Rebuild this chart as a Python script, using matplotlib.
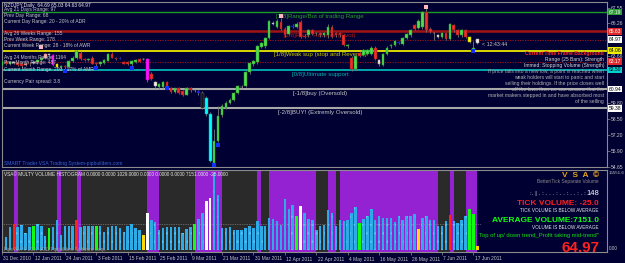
import matplotlib
matplotlib.use("Agg")
import matplotlib.pyplot as plt
import matplotlib.transforms as mtransforms
from matplotlib.patches import Rectangle

plt.rcParams['font.family'] = ['Liberation Sans', 'DejaVu Sans']
plt.rcParams['hatch.linewidth'] = 0.3

# ---- daily bars NZDJPY, 31 Dec 2010 .. 20 Jun 2011 (bar index 0..121) ----
opens = [62.85, 63.20, 63.00, 63.15, 63.05, 63.00, 62.90, 63.00, 63.05, 63.10,
         63.30, 63.50, 63.75, 63.70, 62.95, 62.75, 62.80, 62.75, 63.20, 63.45,
         63.90, 63.40, 63.30, 63.50, 63.05, 62.95, 63.05, 63.25, 63.80, 63.45,
         63.40, 63.15, 63.10, 62.95, 63.15, 63.35, 63.35, 63.40, 62.15, 61.50,
         61.10, 61.10, 61.50, 61.00, 60.70, 61.00, 60.80, 60.50, 61.00, 60.85,
         60.80, 60.66, 60.25, 58.95, 54.98, 56.76, 58.85, 59.45, 59.85, 60.05,
         60.65, 61.10, 61.20, 62.30, 62.95, 63.10, 64.35, 64.40, 65.10, 66.30,
         66.00, 66.35, 65.80, 65.40, 66.00, 66.00, 66.40, 65.25, 65.30, 65.70,
         65.45, 65.50, 65.30, 65.30, 66.00, 65.45, 65.45, 65.30, 64.40, 63.50,
         62.60, 63.90, 63.70, 63.80, 63.80, 64.30, 63.00, 62.90, 63.80, 64.40,
         64.50, 64.70, 64.60, 65.10, 65.30, 66.10, 65.90, 65.95, 67.15, 65.80,
         65.50, 65.30, 65.15, 65.50, 65.00, 66.10, 65.70, 65.30, 65.70, 65.15,
         64.15, 64.69]
highs = [63.30, 63.30, 63.25, 63.25, 63.15, 63.10, 63.10, 63.10, 63.20, 63.40,
         63.60, 63.90, 63.85, 63.80, 63.05, 62.90, 62.90, 63.30, 63.60, 64.15,
         64.05, 63.50, 63.45, 63.65, 63.15, 63.20, 63.40, 63.90, 63.95, 63.55,
         63.55, 63.25, 63.20, 63.30, 63.40, 63.45, 63.50, 63.50, 62.30, 61.60,
         61.45, 61.60, 61.60, 61.10, 61.05, 61.10, 60.90, 61.10, 61.10, 60.95,
         60.90, 60.80, 60.40, 59.10, 57.74, 59.60, 59.70, 59.95, 60.20, 60.75,
         61.30, 61.30, 62.40, 63.15, 63.30, 64.55, 64.80, 65.20, 66.55, 66.45,
         66.60, 66.70, 65.95, 66.15, 66.20, 66.35, 66.55, 65.40, 65.80, 65.85,
         65.60, 65.60, 65.60, 66.20, 66.10, 65.55, 65.55, 65.40, 64.60, 63.60,
         63.70, 64.00, 64.20, 64.20, 64.40, 64.40, 63.40, 63.90, 64.40, 64.60,
         64.95, 64.85, 65.20, 65.50, 65.80, 66.25, 66.60, 67.25, 67.60, 65.95,
         65.60, 65.40, 65.60, 65.60, 66.30, 66.25, 65.80, 65.80, 65.85, 65.25,
         64.85, 65.03]
lows = [62.75, 62.90, 62.90, 62.95, 62.80, 62.75, 62.80, 62.85, 62.95, 63.00,
        63.20, 63.40, 63.60, 62.85, 62.65, 62.60, 62.55, 62.65, 63.10, 63.35,
        63.30, 63.20, 63.20, 62.95, 62.85, 62.85, 62.95, 63.20, 63.45, 63.30,
        63.35, 62.95, 62.90, 62.85, 63.05, 63.10, 63.30, 61.55, 61.70, 61.05,
        60.95, 61.00, 61.05, 60.60, 60.60, 60.55, 60.35, 60.45, 60.75, 60.75,
        60.50, 59.30, 58.80, 55.00, 54.90, 56.65, 58.70, 59.30, 59.70, 59.95,
        60.55, 61.00, 61.10, 62.20, 62.85, 63.00, 64.25, 64.30, 65.00, 66.10,
        65.90, 65.75, 65.20, 65.30, 65.90, 65.90, 65.05, 65.05, 65.20, 65.30,
        65.35, 65.20, 65.20, 65.10, 65.10, 65.20, 65.20, 64.40, 64.30, 62.45,
        62.50, 63.55, 63.60, 63.70, 63.70, 63.30, 62.80, 62.80, 63.70, 64.30,
        64.40, 64.60, 64.50, 65.00, 65.20, 65.75, 65.80, 65.85, 65.60, 65.45,
        64.90, 65.10, 65.05, 64.90, 64.90, 65.60, 65.20, 65.20, 65.10, 64.70,
        64.05, 64.63]
closes = [63.20, 63.00, 63.15, 63.05, 62.90, 62.85, 63.00, 62.95, 63.10, 63.30,
          63.50, 63.75, 63.70, 62.90, 62.75, 62.80, 62.70, 63.20, 63.50, 64.00,
          63.40, 63.30, 63.35, 63.00, 62.95, 63.10, 63.30, 63.75, 63.50, 63.40,
          63.45, 63.00, 62.95, 63.20, 63.30, 63.15, 63.40, 61.65, 61.80, 61.20,
          61.35, 61.50, 61.10, 60.70, 61.00, 60.60, 60.45, 61.00, 60.85, 60.88,
          60.60, 59.44, 58.95, 55.14, 56.76, 58.79, 59.55, 59.85, 60.10, 60.65,
          61.20, 61.15, 62.30, 63.05, 63.20, 64.45, 64.70, 65.10, 66.45, 66.25,
          66.50, 65.85, 65.30, 66.05, 66.05, 66.25, 65.20, 65.15, 65.70, 65.40,
          65.50, 65.30, 65.50, 66.00, 65.20, 65.30, 65.30, 64.50, 64.50, 62.60,
          63.60, 63.65, 64.10, 64.10, 64.30, 63.40, 63.30, 63.80, 64.30, 64.50,
          64.85, 64.75, 65.10, 65.40, 65.70, 65.85, 66.50, 67.15, 65.70, 65.55,
          65.45, 65.20, 65.50, 65.00, 66.20, 65.70, 65.30, 65.70, 65.20, 64.80,
          64.30, 64.97]
# candles the VSA template paints in their own colour
candle_special = {6: 'pink', 11: 'pink', 3: 'white', 8: 'white', 12: 'white',
                  13: 'magenta', 37: 'magenta', 14: 'yellow', 119: 'yellow',
                  30: 'blue', 50: 'blue', 74: 'blue', 101: 'blue',
                  36: 'white', 39: 'white', 49: 'white', 61: 'white', 69: 'white',
                  96: 'white', 110: 'white', 111: 'white', 121: 'white',
                  51: 'dark', 52: 'cyan', 53: 'cyan'}
signal_bars = [16, 24, 33, 42, 54, 55, 120]
signal_prices = [62.40, 62.68, 62.68, 61.00, 54.78, 56.45, 64.00]
top_bars = [10, 71, 108]
top_prices = [64.32, 66.87, 67.62]

# volume histogram
volumes = [2460, 2590, 4410, 5050, 4410, 4860, 3240, 4410, 4670, 4920,
           4670, 2720, 4150, 4410, 5830, 2850, 4540, 4540, 4540, 5700,
           4410, 4670, 4540, 4540, 4670, 4540, 3560, 4410, 4670, 4670,
           4150, 3560, 4670, 5050, 4210, 3890, 2920, 7130, 5700, 5440,
           3890, 4150, 4410, 4410, 4410, 4410, 3240, 4020, 4410, 5050,
           5960, 7130, 9400, 10040, 14900, 10690, 4210, 4210, 4410, 3890,
           3890, 3760, 4210, 4540, 4210, 5510, 4540, 4670, 6160, 5960,
           5510, 4860, 9850, 7910, 8750, 6610, 8420, 7130, 5960, 5830,
           3890, 4670, 4860, 7780, 7130, 4670, 5700, 5510, 5830, 7130,
           8290, 5180, 5960, 6480, 7910, 5830, 6480, 6160, 6090, 6090,
           5380, 6480, 5830, 6610, 6610, 6930, 4020, 6160, 6480, 5830,
           5700, 4670, 4670, 5510, 6800, 5510, 5180, 5830, 6610, 7910,
           6930, 780]
volume_special = {3: 'red', 19: 'red', 114: 'red',
                  8: 'green', 12: 'green', 24: 'green', 49: 'green', 75: 'green',
                  91: 'green', 119: 'green', 120: 'green',
                  36: 'yellow', 106: 'yellow', 121: 'yellow',
                  37: 'white', 52: 'white', 53: 'white', 76: 'white'}
volume_avg = 5050
volume_max = 15551.6
background_bars = 121
purple_bars = [3, 14, 19, 37, 38, 39, 49, 50, 51, 52, 53, 54, 55, 65,
               68, 69, 70, 71, 72, 73, 74, 75, 76, 77, 78, 79, 83, 84,
               86, 87, 88, 89, 90, 91, 92, 93, 94, 95, 96, 97, 98, 99, 100,
               101, 102, 103, 104, 105, 106, 107, 108, 109, 110, 114, 118, 119, 120]

# Murrey math levels
mm_levels = [67.19, 65.63, 64.06, 62.50, 60.94, 59.38]
mm_labels = ['[3/8]Range/Bot of trading Range', '[2/8]Pivot, Reverse (Pivot)',
             '[1/8]Weak sup (stop and Reverse)', '[0/8]Ultimate support',
             '[-1/8]buy (Oversold)', '[-2/8]BUY! (Extremly Oversold)']
mm_colors = ['#1f9a2a', '#a01414', '#e8e800', '#00b4b4', '#a8a8a8', '#a8a8a8']
mm_text_colors = ['#2aa02a', '#b01818', '#c8c800', '#00b0b0', '#c8c8c8', '#c8c8c8']
mm_widths = [1.0, 1.8, 1.3, 1.3, 1.5, 1.5]
pivot_levels = [64.94, 63.17]
price_ticks = [67.55, 66.26, 63.66, 59.80, 58.50, 57.20, 55.90, 54.65]
box_levels = [67.19, 65.63, 64.97, 64.06, 63.17, 62.50, 60.94, 59.38]
box_colors = ['#2f9a3a', '#e02828', '#ffffff', '#f0f000', '#e02828', '#00d0d0', '#ffffff', '#ffffff']
box_text = ['#e8ffe8', '#ffffff', '#000000', '#000000', '#ffffff', '#000000', '#000000', '#000000']

date_bars = [0, 8, 16, 24, 32, 40, 48, 56, 64, 72, 80, 88, 96, 104, 112, 120]
date_labels = ['31 Dec 2010', '12 Jan 2011', '24 Jan 2011', '3 Feb 2011', '15 Feb 2011',
               '25 Feb 2011', '9 Mar 2011', '21 Mar 2011', '31 Mar 2011', '12 Apr 2011',
               '22 Apr 2011', '4 May 2011', '16 May 2011', '26 May 2011', '7 Jun 2011',
               '17 Jun 2011']

W, H = 625, 263
BG = '#000032'
GRID = '#8c8c8c'


def fx(x):
    return x / W


def fy(y):
    return 1 - y / H


fig = plt.figure(figsize=(W / 100, H / 100), dpi=100)
fig.patch.set_facecolor(BG)

ax = fig.add_axes([fx(2), fy(167), fx(607) - fx(2), fy(2) - fy(167)])
axv = fig.add_axes([fx(2), fy(252), fx(607) - fx(2), fy(169.5) - fy(252)], sharex=ax)
for a in (ax, axv):
    a.set_facecolor(BG)
    for s in a.spines.values():
        s.set_color(GRID)
        s.set_linewidth(0.8)
ax.set_xlim(0.076, 154.0)
ax.set_ylim(54.635, 68.0)

# ---- main panel ----
for lvl, col, lw in zip(mm_levels, mm_colors, mm_widths):
    ax.axhline(lvl, color=col, lw=lw, zorder=1)
for lvl in pivot_levels:
    ax.axhline(lvl, color='#b01818', lw=0.6, ls=(0, (1.5, 1.5)), zorder=1)
for lvl, lab, col in zip(mm_levels, mm_labels, mm_text_colors):
    ax.text(81, lvl - 0.13, lab, color=col, fontsize=4.4, ha='center', va='top', zorder=1.5)

colors = {'magenta': ('#ff10ff', '#c000c0'), 'cyan': ('#00ffff', '#00a0a0'),
          'yellow': ('#ffff00', '#b0b000'), 'white': ('#f4f0e8', '#a0a0a0'),
          'pink': ('#ffb0b0', '#c07070'), 'blue': ('#1a2cff', '#0a14a0'),
          'dark': ('#151515', '#606060')}
for i in range(len(closes)):
    o, h, l, c = opens[i], highs[i], lows[i], closes[i]
    if i in candle_special:
        fc, ec = colors[candle_special[i]]
    elif c >= o:
        fc, ec = '#52e052', '#1f8a1f'
    else:
        fc, ec = '#f03030', '#8a1010'
    ax.vlines(i, l, h, color='#7a7a7a', lw=0.6, zorder=2)
    ax.add_patch(Rectangle((i - 0.33, min(o, c)), 0.66, max(abs(c - o), 0.05),
                           facecolor=fc, edgecolor=ec, lw=0.35, zorder=3))
ax.scatter(signal_bars, signal_prices, marker='s', s=5, color='#1030ff', lw=0, zorder=4)
ax.scatter(top_bars, top_prices, marker='s', s=5, color='#ffb4c0', lw=0, zorder=4)

ax.yaxis.tick_right()
ax.set_yticks(price_ticks)
ax.set_yticklabels(['%.2f' % t for t in price_ticks])
ax.tick_params(axis='y', colors=GRID, labelcolor='#c8c8c8', labelsize=3.6, length=2, width=0.5, pad=1)
ax.tick_params(axis='x', bottom=False, labelbottom=False)
tr = mtransforms.blended_transform_factory(ax.transAxes, ax.transData)
for lvl, bc, tc in zip(box_levels, box_colors, box_text):
    ax.text(1.003, lvl, '%.2f' % lvl, transform=tr, fontsize=3.6, color=tc, va='center', ha='left',
            bbox=dict(boxstyle='square,pad=0.15', fc=bc, ec='none'), zorder=6, clip_on=False)

info = [(5, 'NZDJPY,Daily  64.69 65.03 64.63 64.97', '#e8e8e8'),
        (9.5, 'Avg 21 Days Range: 97', '#c8c8c8'),
        (16, 'Prev Day Range: 68', '#c8c8c8'),
        (22, 'Current Day Range: 20 - 20% of ADR', '#c8c8c8'),
        (33.5, 'Avg 26 Weeks Range: 155', '#c8c8c8'),
        (39.5, 'Prev Week Range: 178', '#c8c8c8'),
        (45, 'Current Week Range: 28 - 18% of AWR', '#c8c8c8'),
        (57, 'Avg 24 Months Range: 1164', '#c8c8c8'),
        (63, 'Prev Month Range: 487', '#c8c8c8'),
        (69, 'Current Month Range: 200 - 17% of AMR', '#c8c8c8'),
        (81, 'Currency Pair spread: 3.8', '#c8c8c8')]
for y, t, c in info:
    fig.text(fx(3.5), fy(y), t, color=c, fontsize=3.5, va='center', ha='left')
fig.text(fx(4), fy(163), 'SMART Trader VSA Trading System-pipbuilders.com', color='#3a66d0',
         fontsize=3.6, va='center')
fig.text(fx(482), fy(44), '< 12:43:44', color='#c8c8c8', fontsize=3.8, va='center')

right_block = [(53.5, 'Current Time Frame Background', '#ff2a2a', 'bold'),
               (59.5, 'Range (25 Bars): Strength', '#d8d8d8', 'normal'),
               (65.5, 'Immed: Stopping Volume (Strength)', '#d8d8d8', 'normal'),
               (71.5, 'If price falls into a new low, a point is reached when', '#a8a8a8', 'normal'),
               (77.5, 'weak holders will start to panic and start', '#b4b4b4', 'normal'),
               (83.5, 'selling their holdings. If the price closes well', '#b4b4b4', 'normal'),
               (89.5, 'off the lows then we can assume that the', '#b4b4b4', 'normal'),
               (95.5, 'market makers stepped in and have absorbed most', '#b4b4b4', 'normal'),
               (101.5, 'of the selling', '#b4b4b4', 'normal')]
for y, t, c, w in right_block:
    fig.text(fx(604), fy(y), t, color=c, fontsize=3.6, fontweight=w, va='center', ha='right', zorder=5)

# ---- volume panel ----
axv.set_ylim(-400, volume_max)
axv.bar(range(background_bars), [volume_max + 400] * background_bars, bottom=-400, width=1.0,
        align='edge', color='#2a2a2a', lw=0, zorder=0)
axv.bar(purple_bars, [volume_max + 400] * len(purple_bars), bottom=-400, width=1.0,
        align='edge', color='#9422d2', lw=0, zorder=0.5)
axv.plot([0, len(volumes)], [volume_avg, volume_avg], color='#9a9a9a', lw=0.5, ls=(0, (1, 1.5)), zorder=1)
vcol = {'red': '#ff2020', 'green': '#10ff10', 'yellow': '#ffd800', 'white': '#ffffff'}
for i, v in enumerate(volumes):
    if i in volume_special:
        axv.bar(i, v, width=0.62, color=vcol[volume_special[i]], lw=0, zorder=2)
    else:
        axv.bar(i, v, width=0.62, color='#2eaae6', edgecolor='#5cc8f4', hatch='..', lw=0, zorder=2)
axv.set_yticks([])
axv.tick_params(axis='x', colors=GRID, length=2, width=0.5, labelbottom=False)
axv.set_xticks(date_bars)
for b, lab in zip(date_bars, date_labels):
    fig.text(fx(1.7 + 3.93 * b + 1.5), fy(259), lab, color='#c8c8c8', fontsize=3.5, va='center', ha='left')

fig.text(fx(608.5), fy(173), '15551.6', color='#c8c8c8', fontsize=3.2, va='center')
fig.text(fx(609), fy(249), '0.00', color='#c8c8c8', fontsize=3.4, va='center')
fig.text(fx(4), fy(174), 'VSA\u00a9 MULTY VOLUME HISTOGRAM 0.0000 0.0000 1029.0000 0.0000 0.0000 0.0000 '
         '7151.0000 -25.0000', color='#e8e8e8', fontsize=3.4, va='center', zorder=5)
fig.text(fx(4), fy(249), 'PipsVSA \u00a9 2007-2011 Pipbuilders Software Corp.', color='#9a9a9a',
         fontsize=3.3, va='center', zorder=5)

fig.text(fx(599), fy(175.5), 'V  S  A  \u00a9', color='#e8a020', fontsize=6, fontweight='bold',
         ha='right', va='center')
fig.text(fx(599), fy(182), 'Better/Tick Separate Volume', color='#8c8c8c', fontsize=3.4,
         ha='right', va='center')
fig.text(fx(586), fy(193.5), ':. | . : . . . : . . : . . : . :', color='#e8e8e8', fontsize=4.5,
         ha='right', va='center')
fig.text(fx(599), fy(193.5), '148', color='#ffffff', fontsize=5.5, ha='right', va='center')
fig.text(fx(599), fy(203.5), 'TICK VOLUME: -25.0', color='#ff2020', fontsize=6, fontweight='bold',
         ha='right', va='center')
fig.text(fx(599), fy(211), 'TICK VOLUME IS BELOW AVERAGE', color='#e8e8e8', fontsize=3.3,
         ha='right', va='center')
fig.text(fx(599), fy(220.5), 'AVERAGE VOLUME:7151.0', color='#10ff10', fontsize=6, fontweight='bold',
         ha='right', va='center')
fig.text(fx(599), fy(227.5), 'VOLUME IS BELOW AVERAGE', color='#e8e8e8', fontsize=3.3,
         ha='right', va='center')
fig.text(fx(599), fy(236), 'Top of up/ down trend_Profit taking mid-trend"', color='#10e010',
         fontsize=4.2, ha='right', va='center', zorder=5)
fig.text(fx(599), fy(247.5), '64.97', color='#ff2020', fontsize=11, fontweight='bold',
         ha='right', va='center', zorder=5)

fig.savefig('out.png', dpi=100, facecolor=BG)
